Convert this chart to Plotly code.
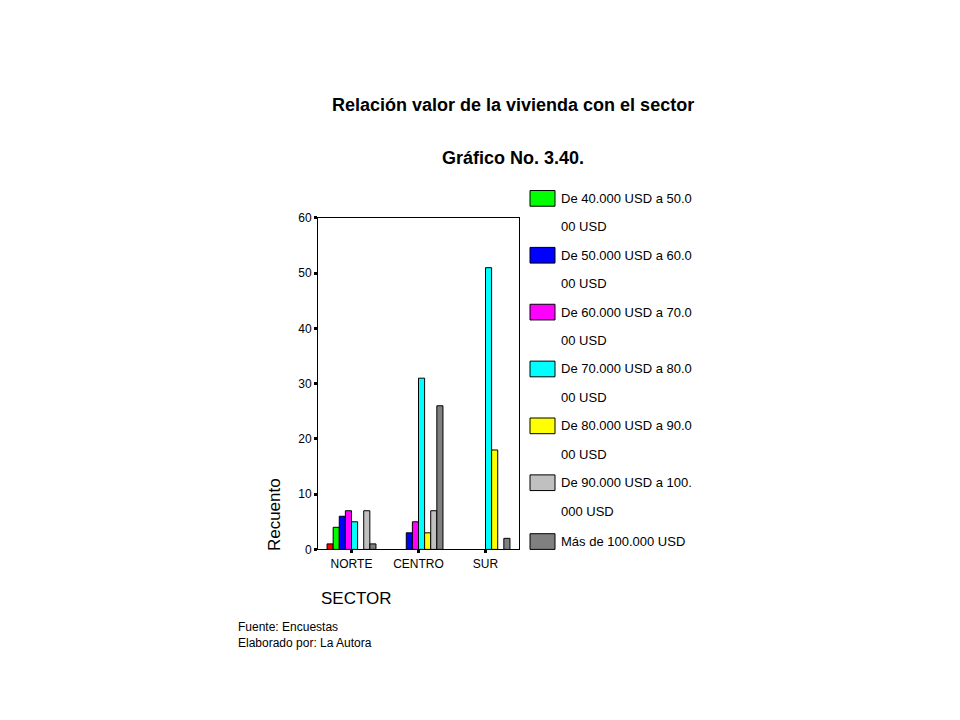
import plotly.graph_objects as go

sectors = ["NORTE", "CENTRO", "SUR"]
series = ["Menos de 40.000 USD",
          "De 40.000 USD a 50.0<br>00 USD",
          "De 50.000 USD a 60.0<br>00 USD",
          "De 60.000 USD a 70.0<br>00 USD",
          "De 70.000 USD a 80.0<br>00 USD",
          "De 80.000 USD a 90.0<br>00 USD",
          "De 90.000 USD a 100.<br>000 USD",
          "Más de 100.000 USD"]
colors = ["#ff0000", "#00ff00", "#0000ff", "#ff00ff", "#00ffff", "#ffff00", "#c0c0c0", "#808080"]
values = [[1, 0, 0], [4, 0, 0], [6, 3, 0], [7, 5, 0], [5, 31, 51], [0, 3, 18], [7, 7, 0], [1, 26, 2]]

W, H = 960, 720
L, R, T, B = 310, 511, 207, 545
fig = go.Figure()
for name, col, v in zip(series, colors, values):
    fig.add_bar(x=sectors, y=[val if val else None for val in v], name=name,
                marker=dict(color=col, line=dict(color="black", width=1)), showlegend=False)

font = "Liberation Sans, Arial, sans-serif"
fig.update_layout(
    width=W, height=H, paper_bgcolor="white", plot_bgcolor="white",
    margin=dict(l=0, r=0, t=0, b=0), barmode="group", bargap=0.27, bargroupgap=0,
    font=dict(family=font, color="black", size=12),
    xaxis=dict(domain=[L / W, R / W], showline=True, linecolor="black", mirror=True, ticks="outside",
               ticklen=3, tickwidth=3, tickcolor="black"),
    yaxis=dict(domain=[1 - B / H, 1 - T / H], range=[0, 60], dtick=10, showline=True, linecolor="black",
               mirror=True, ticks="outside", ticklen=3, tickwidth=3, tickcolor="black", showgrid=False, zeroline=False),
)

def px(x): return x / W
def py(y): return 1 - y / H

ann = [
    dict(text="<b>Relación valor de la vivienda con el sector</b>", x=px(505), y=py(92), size=18),
    dict(text="<b>Gráfico No. 3.40.</b>", x=px(505), y=py(146), size=18),
    dict(text="SECTOR", x=px(348), y=py(595), size=17),
]
for a in ann:
    fig.add_annotation(text=a["text"], x=a["x"], y=a["y"], xref="paper", yref="paper", showarrow=False,
                       font=dict(size=a["size"], family=font), xanchor="center", yanchor="middle")
fig.add_annotation(text="Recuento", x=px(266), y=py(510), xref="paper", yref="paper", showarrow=False,
                   textangle=-90, font=dict(size=17, family=font), xanchor="center", yanchor="middle")
fig.add_annotation(text="Fuente: Encuestas<br>Elaborado por: La Autora", x=px(228), y=py(632), xref="paper", yref="paper",
                   showarrow=False, align="left", xanchor="left", yanchor="middle", font=dict(size=12, family=font))

ys = [187, 245, 303, 361, 419, 477, 537]
for name, col, yc in zip(series[1:], colors[1:], ys):
    fig.add_shape(type="rect", xref="paper", yref="paper", x0=px(522), x1=px(547), y0=py(yc - 8), y1=py(yc + 8),
                  fillcolor=col, line=dict(color="black", width=1))
    parts = name.split("<br>")
    for i, p in enumerate(parts):
        fig.add_annotation(text=p, x=px(551), y=py(yc + 29 * i), xref="paper", yref="paper", showarrow=False,
                           xanchor="left", yanchor="middle", font=dict(size=13, family=font))

fig.write_html("out.html")
